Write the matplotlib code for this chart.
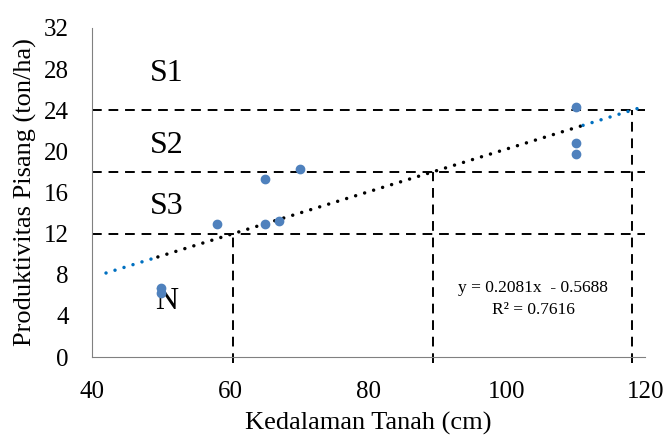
import numpy as np
import matplotlib.pyplot as plt

# data
depth = [50, 50, 58, 65, 65, 67, 70, 110, 110, 110]
yield_ = [6.7, 6.2, 12.9, 17.3, 12.9, 13.2, 18.3, 24.3, 20.8, 19.7]

slope, intercept = 0.2081, -0.5688
thresholds = [12, 18, 24]
class_labels = ["S1", "S2", "S3", "N"]
class_y = [27.6, 20.6, 14.6, 5.4]

plt.rcParams['font.family'] = ['Liberation Serif', 'DejaVu Serif']

fig = plt.figure(figsize=(6.68, 4.37), dpi=100)
ax = fig.add_axes([0.138, 0.183, 0.828, 0.753])

# trendline: black over the data span, blue forecast on both ends
dots = (0, (0.01, 2.7))
segments = [([42, 49.5], '#0070C0'), ([49.5, 111], 'black'), ([111, 119.5], '#0070C0')]
for xs, col in segments:
    xs = np.array(xs)
    ax.plot(xs, slope * xs + intercept, color=col, lw=2.5, ls=dots,
            dash_capstyle='round', zorder=2)

ax.scatter(depth, yield_, s=36, color='#4F81BD', zorder=4)

# class boundaries
dash = (0, (5, 3.5))
for t in thresholds:
    ax.axhline(t, color='black', lw=1.4, ls=dash, zorder=1)
    xc = (t - intercept) / slope
    ax.plot([xc, xc], [-0.6, t], color='black', lw=1.4, ls=dash, zorder=1,
            clip_on=False)

for lab, yy in zip(class_labels, class_y):
    ax.text(50.8, yy, lab, fontsize=23, ha='center', va='center')

ax.text(103.8, 6.7, "y = 0.2081x  - 0.5688", fontsize=12.5, ha='center', va='center')
ax.text(103.8, 4.6, "R² = 0.7616", fontsize=12.5, ha='center', va='center')

ax.set_xlim(40, 120)
ax.set_ylim(0, 32)
ax.set_xticks([40, 60, 80, 100, 120])
ax.set_yticks(range(0, 33, 4))
ax.tick_params(length=0, labelsize=18, pad=17)
for s in ['top', 'right']:
    ax.spines[s].set_visible(False)
for s in ['left', 'bottom']:
    ax.spines[s].set_color('#808080')
ax.set_xlabel("Kedalaman Tanah (cm)", fontsize=19, labelpad=7)
ax.set_ylabel("Produktivitas Pisang (ton/ha)", fontsize=19, labelpad=5)

fig.savefig('out.png', dpi=100)
